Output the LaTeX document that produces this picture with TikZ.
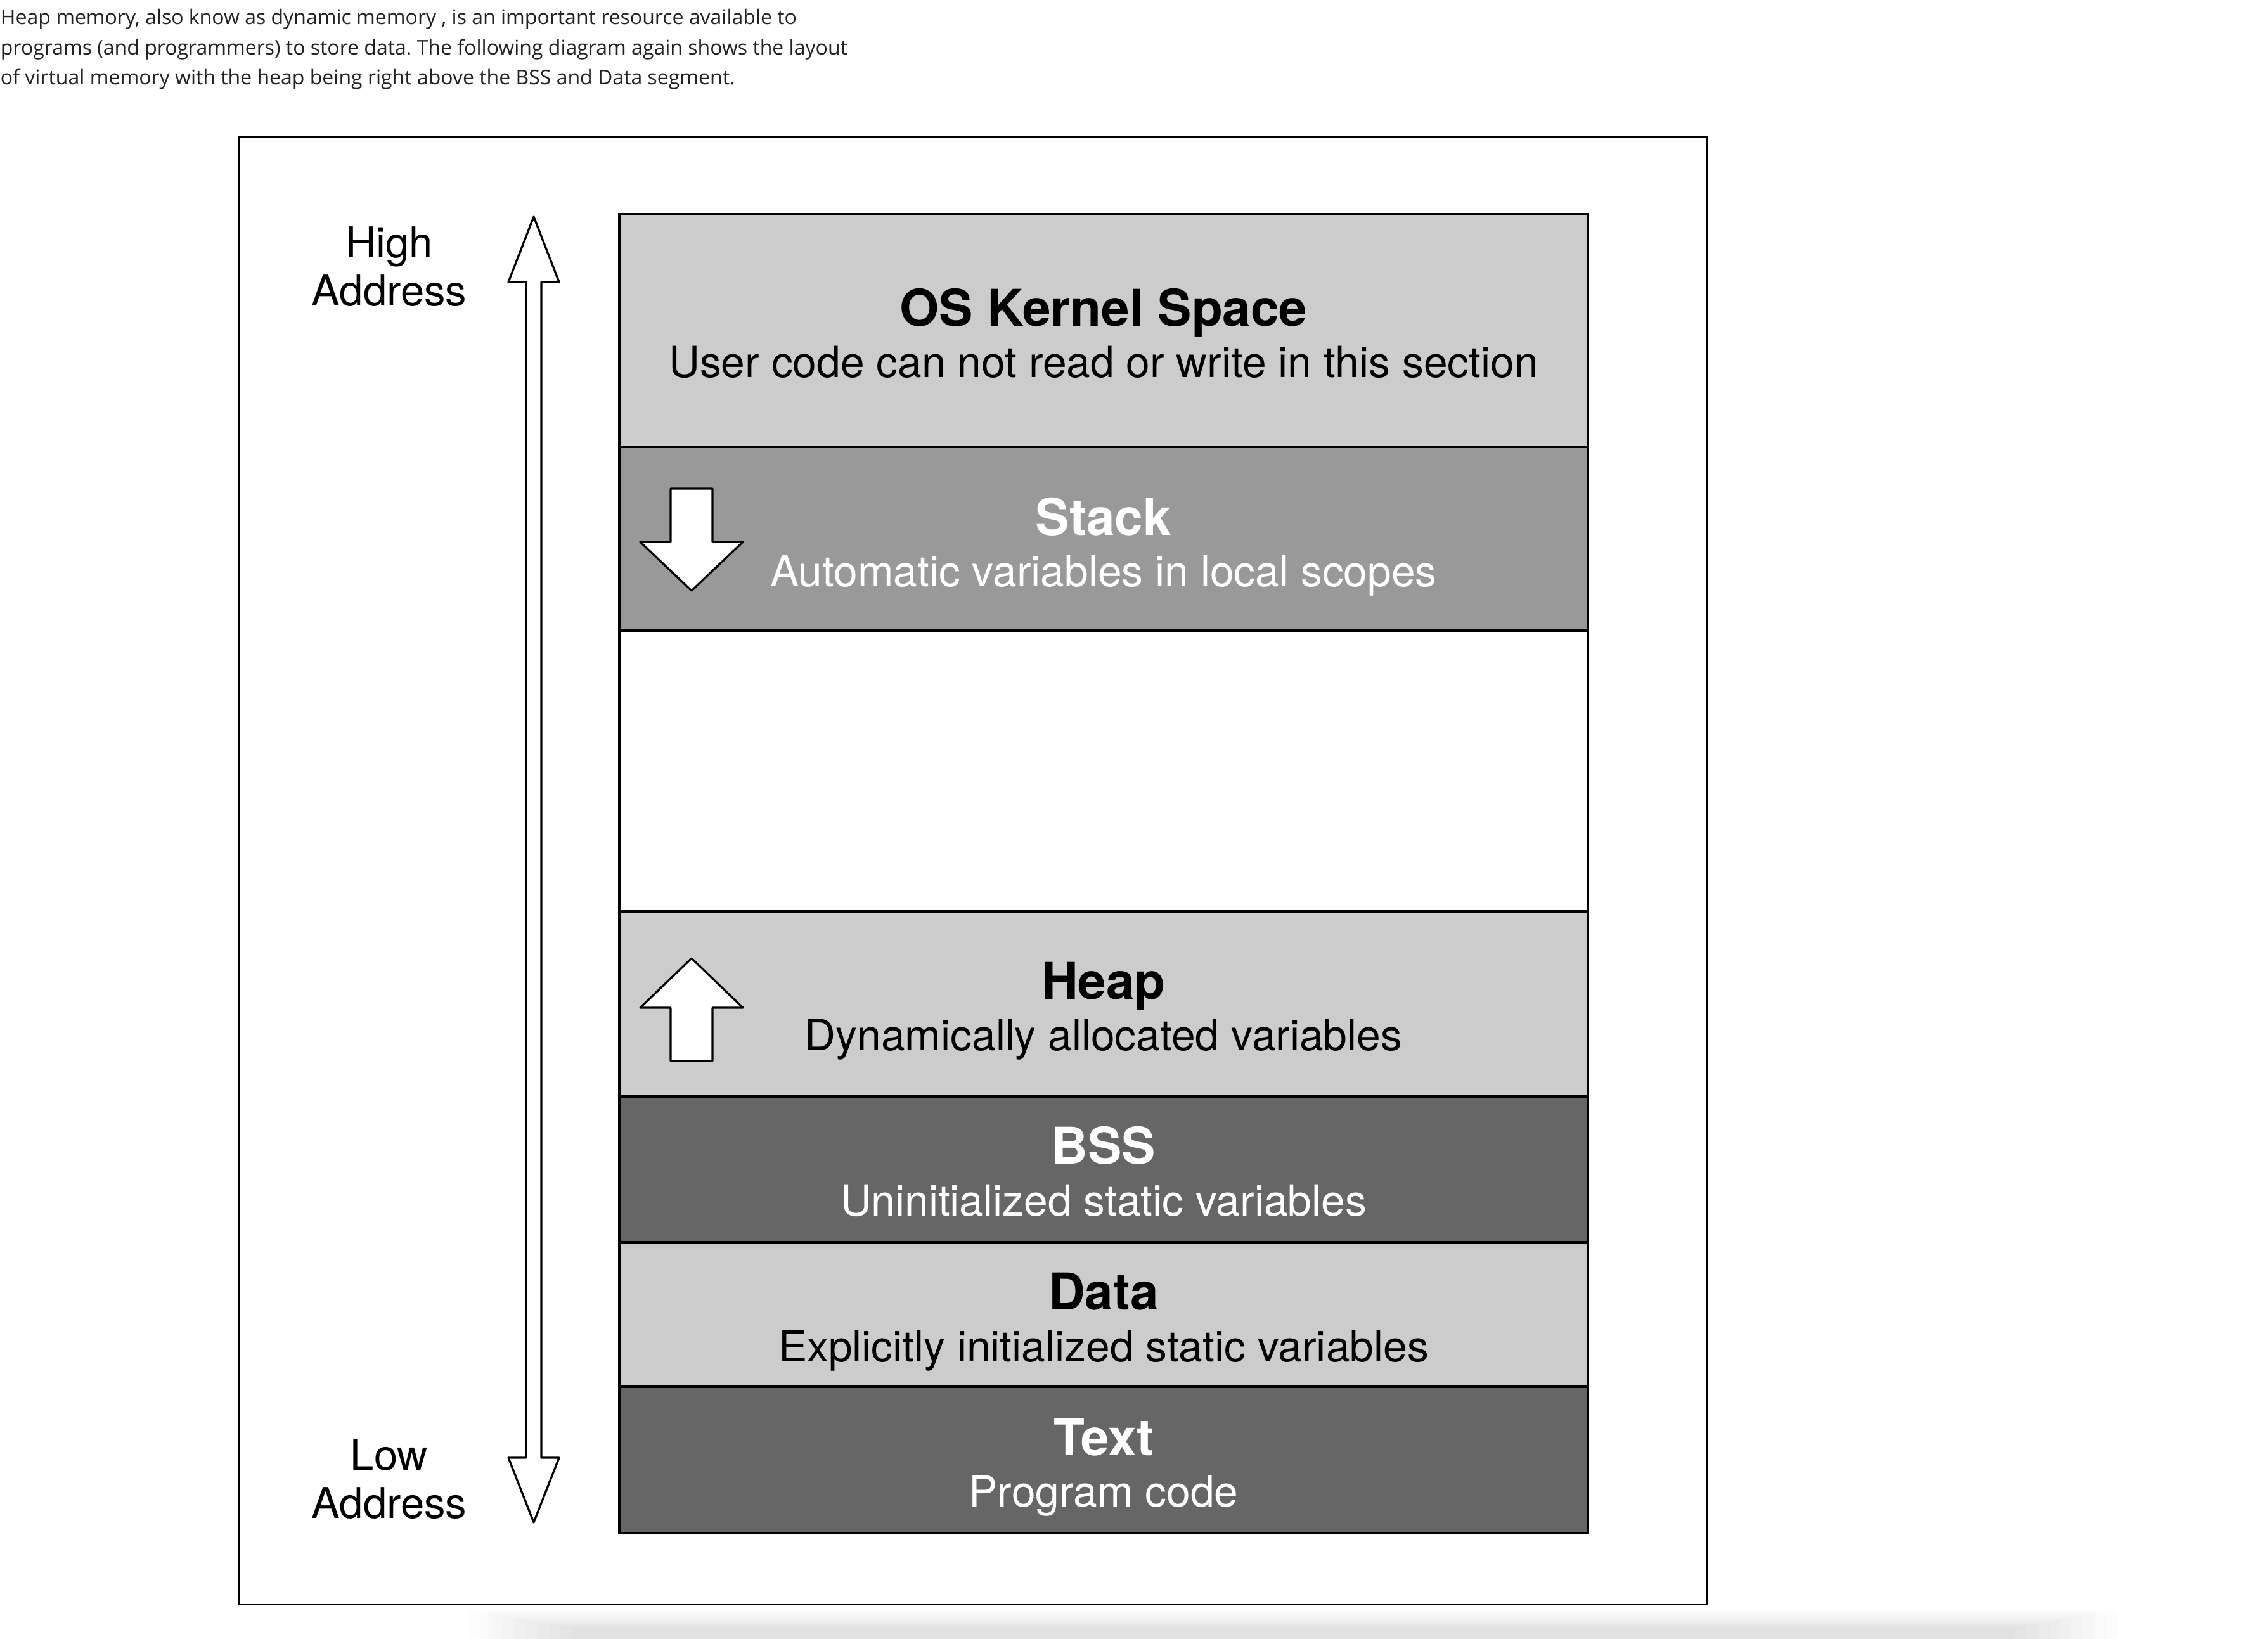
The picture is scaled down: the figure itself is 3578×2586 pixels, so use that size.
\documentclass[tikz,border=0pt]{standalone}
\usepackage{fontspec}
\setmainfont{TeX Gyre Heros}
\newfontfamily\opensans{Open Sans}
\definecolor{seglight}{HTML}{CCCCCC}
\definecolor{segmid}{HTML}{999999}
\definecolor{segdark}{HTML}{666666}
\definecolor{paratext}{HTML}{222222}
\frenchspacing
\tikzset{
  segbox/.style={draw=black, line width=0.8pt},
  ttl/.style={font=\fontsize{16}{18}\selectfont\bfseries, anchor=base, inner sep=0},
  subt/.style={font=\fontsize{13.55}{15}\selectfont, anchor=base, inner sep=0},
  addr/.style={font=\fontsize{13.4}{15}\selectfont, anchor=base, inner sep=0},
  para/.style={font=\opensans\fontsize{6.4}{7}\selectfont, anchor=base west, inner sep=0, text=paratext},
  blockarrow/.style={draw=black, fill=white, line width=0.65pt, line join=round},
}
\begin{document}
\begin{tikzpicture}[x=0.2pt,y=-0.2pt]
\useasboundingbox (0,0) rectangle (3578,2586);
\fill[white] (0,0) rectangle (3578,2586);

% soft shadow at the bottom
\foreach \i in {0,...,9}
  \fill[black, opacity=0.011] (740+\i*18,2542+\i*3) rectangle (3340-\i*18,2590);

% paragraph
\node[para] (p1) at (0,38) {Heap memory, also know as dynamic memory , is an important resource available to};
\node[para] (p2) at (0,86) {programs (and programmers) to store data. The following diagram again shows the layout};
\node[para] (p3) at (0,133) {of virtual memory with the heap being right above the BSS and Data segment.};

% outer frame
\draw[line width=0.6pt] (377,215) rectangle (2693,2531);

% segments
\draw[segbox, fill=seglight] (977,338) rectangle (2505,705);
\draw[segbox, fill=segmid]   (977,705) rectangle (2505,995);
\draw[segbox, fill=white]    (977,995) rectangle (2505,1438);
\draw[segbox, fill=seglight] (977,1438) rectangle (2505,1730);
\draw[segbox, fill=segdark]  (977,1730) rectangle (2505,1960);
\draw[segbox, fill=seglight] (977,1960) rectangle (2505,2188);
\draw[segbox, fill=segdark]  (977,2188) rectangle (2505,2419);

% segment texts
\node[ttl] (osT) at (1741,514) {OS Kernel Space};
\node[subt] (osS) at (1741,595) {User code can not read or write in this section};
\node[ttl, text=white] (stT) at (1741,844) {Stack};
\node[subt, text=white] (stS) at (1741,925) {Automatic variables in local scopes};
\node[ttl] (hpT) at (1741,1576) {Heap};
\node[subt] (hpS) at (1741,1657) {Dynamically allocated variables};
\node[ttl, text=white] (bsT) at (1741,1836) {BSS};
\node[subt, text=white] (bsS) at (1741,1918) {Uninitialized static variables};
\node[ttl] (daT) at (1741,2066) {Data};
\node[subt] (daS) at (1741,2148) {Explicitly initialized static variables};
\node[ttl, text=white] (txT) at (1741,2296) {Text};
\node[subt, text=white] (txS) at (1741,2377) {Program code};

% block arrows
\draw[blockarrow] (1058,771) -- (1124,771) -- (1124,855) -- (1172,855) -- (1091,932) -- (1010,855) -- (1058,855) -- cycle;
\draw[blockarrow] (1091,1512) -- (1172,1590) -- (1124,1590) -- (1124,1674) -- (1058,1674) -- (1058,1590) -- (1010,1590) -- cycle;

% address double arrow
\draw[blockarrow] (842,342) -- (882,445) -- (854,445) -- (854,2300) -- (882,2300) -- (842,2402)
  -- (802,2300) -- (830,2300) -- (830,445) -- (802,445) -- cycle;

% address labels
\node[addr] (hi1) at (614,406) {High};
\node[addr] (hi2) at (614,482) {Address};
\node[addr] (lo1) at (614,2319) {Low};
\node[addr] (lo2) at (614,2395) {Address};
\end{tikzpicture}
\end{document}
